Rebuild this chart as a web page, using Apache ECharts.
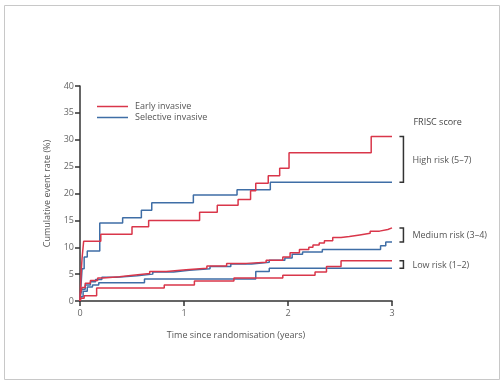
<!DOCTYPE html>
<html>
<head>
<meta charset="utf-8">
<script src="https://cdn.jsdelivr.net/npm/echarts@6/dist/echarts.min.js"></script>
<style>
html,body{margin:0;padding:0;background:#fff;}
#c{width:501px;height:381px;}
</style>
</head>
<body>
<div id="c"></div>
<script>
// ---- data (time in years, cumulative event rate in %) ----
var xTicks = [0, 1, 2, 3];
var yTicks = [0, 5, 10, 15, 20, 25, 30, 35, 40];
var seriesNames = ['Early invasive', 'Selective invasive'];

var highEarly = [[0,0],[0.01,5],[0.02,8],[0.035,11.1],[0.2,12.4],[0.5,13.8],[0.66,15.0],[1.15,16.5],[1.32,17.8],[1.52,18.9],[1.64,20.5],[1.69,21.9],[1.81,23.3],[1.92,24.7],[2.01,27.6],[2.80,30.6],[3,30.6]];
var highSelective = [[0,0],[0.01,3],[0.02,6],[0.04,8.2],[0.07,9.3],[0.19,14.5],[0.41,15.5],[0.59,16.9],[0.69,18.3],[1.09,19.7],[1.51,20.7],[1.83,22.1],[3,22.1]];
var medEarly = [[0,0],[0.005,1.5],[0.02,2.5],[0.05,3.3],[0.1,3.8],[0.17,4.3],[0.22,4.5],[0.38,4.8],[0.51,5.1],[0.67,5.5],[0.83,5.8],[1.02,6.1],[1.22,6.5],[1.41,7.0],[1.6,7.2],[1.79,7.6],[1.95,8.2],[2.02,9.0],[2.11,9.6],[2.2,10.0],[2.24,10.4],[2.3,10.8],[2.35,11.2],[2.43,11.8],[2.51,12.0],[2.59,12.3],[2.69,12.6],[2.79,13.0],[2.88,13.3],[2.96,13.6],[3,13.6]];
var medSelective = [[0,0],[0.005,1.2],[0.02,2.2],[0.05,3.0],[0.1,3.6],[0.15,4.0],[0.21,4.4],[0.35,4.7],[0.55,5.0],[0.7,5.4],[0.9,5.7],[1.05,6.0],[1.25,6.4],[1.45,6.9],[1.65,7.2],[1.82,7.6],[1.97,8.0],[2.04,8.7],[2.14,9.1],[2.33,9.6],[2.89,10.3],[2.94,11.0],[3,11.0]];
var lowEarly = [[0,0],[0.01,0.5],[0.04,1.0],[0.16,2.4],[0.81,3.0],[1.10,3.7],[1.48,4.3],[1.95,4.8],[2.26,5.4],[2.37,6.4],[2.51,7.5],[3,7.5]];
var lowSelective = [[0,0],[0.01,0.8],[0.03,1.8],[0.07,2.6],[0.12,3.0],[0.18,3.4],[0.62,4.1],[1.69,5.5],[1.82,6.1],[3,6.1]];

var groupTitle = 'FRISC score';
var groupLabels = ['High risk (5–7)', 'Medium risk (3–4)', 'Low risk (1–2)'];
var groupRanges = [[22.1, 30.6], [11.0, 13.6], [6.1, 7.5]];

var RED = '#d9364a', BLUE = '#3f6ea6';
var FONT = 'Open Sans';

var chart = echarts.init(document.getElementById('c'), null, {renderer: 'canvas'});

function ser(name, data, color) {
  return {
    name: name, type: 'line', step: 'end', data: data,
    symbol: 'none', showSymbol: false, animation: false,
    lineStyle: {color: color, width: 1.5},
    itemStyle: {color: color}
  };
}

var option = {
  animation: false,
  backgroundColor: '#fff',
  grid: {left: 80, right: 109, top: 86, bottom: 80, containLabel: false},
  legend: {
    data: seriesNames,
    orient: 'vertical',
    left: 97, top: 102, padding: 0,
    icon: 'rect', itemWidth: 31, itemHeight: 1.5, itemGap: 2,
    textStyle: {fontFamily: FONT, fontSize: 9, color: '#555', padding: [0,0,0,2]}
  },
  xAxis: {
    type: 'value', min: 0, max: 3, interval: 1,
    name: 'Time since randomisation (years)',
    nameLocation: 'middle', nameGap: 30,
    nameTextStyle: {fontFamily: FONT, fontSize: 9, color: '#555'},
    axisLine: {show: true, onZero: false, lineStyle: {color: '#333', width: 1.5}},
    axisTick: {show: true, length: 5, lineStyle: {color: '#333', width: 1.5}},
    axisLabel: {fontFamily: FONT, fontSize: 9, color: '#666', margin: 8,
      formatter: function (v) { return xTicks.indexOf(v) >= 0 ? String(v) : ''; }},
    splitLine: {show: false}
  },
  yAxis: {
    type: 'value', min: 0, max: 40, interval: 5,
    name: 'Cumulative event rate (%)',
    nameLocation: 'middle', nameGap: 28, nameRotate: 90,
    nameTextStyle: {fontFamily: FONT, fontSize: 9, color: '#555'},
    axisLine: {show: true, onZero: false, lineStyle: {color: '#333', width: 1.5}},
    axisTick: {show: true, length: 5, lineStyle: {color: '#333', width: 1.5}},
    axisLabel: {fontFamily: FONT, fontSize: 9, color: '#666', margin: 6,
      formatter: function (v) { return yTicks.indexOf(v) >= 0 ? String(v) : ''; }},
    splitLine: {show: false}
  },
  series: [
    ser(seriesNames[1], highSelective, BLUE),
    ser(seriesNames[1], medSelective, BLUE),
    ser(seriesNames[1], lowSelective, BLUE),
    ser(seriesNames[0], highEarly, RED),
    ser(seriesNames[0], medEarly, RED),
    ser(seriesNames[0], lowEarly, RED)
  ]
};
chart.setOption(option);

// brackets and group labels, placed through the chart's own coordinate conversion
var gfx = [{
  type: 'rect', shape: {x: 4.5, y: 5.5, width: 495, height: 374},
  style: {fill: 'none', stroke: '#c8c8c8', lineWidth: 1}, z: -1
}];
var bx = chart.convertToPixel({gridIndex: 0}, [3.11, 0])[0];
var topTitleY = chart.convertToPixel({gridIndex: 0}, [0, groupRanges[0][1]])[1] - 13;
gfx.push({type: 'text', left: bx + 10, top: topTitleY - 6,
  style: {text: groupTitle, fontFamily: FONT, fontSize: 9, fill: '#444'}});
groupRanges.forEach(function (r, i) {
  var y1 = chart.convertToPixel({gridIndex: 0}, [0, r[1]])[1];
  var y0 = chart.convertToPixel({gridIndex: 0}, [0, r[0]])[1];
  gfx.push({type: 'polyline', shape: {points: [[bx - 4, y1], [bx, y1], [bx, y0], [bx - 4, y0]]},
    style: {stroke: '#333', lineWidth: 1.5, fill: null}});
  gfx.push({type: 'text', x: bx + 9, y: (y0 + y1) / 2 + 1,
    style: {text: groupLabels[i], fontFamily: FONT, fontSize: 9, fill: '#555', verticalAlign: 'middle'}});
});
chart.setOption({graphic: gfx});
</script>
</body>
</html>
